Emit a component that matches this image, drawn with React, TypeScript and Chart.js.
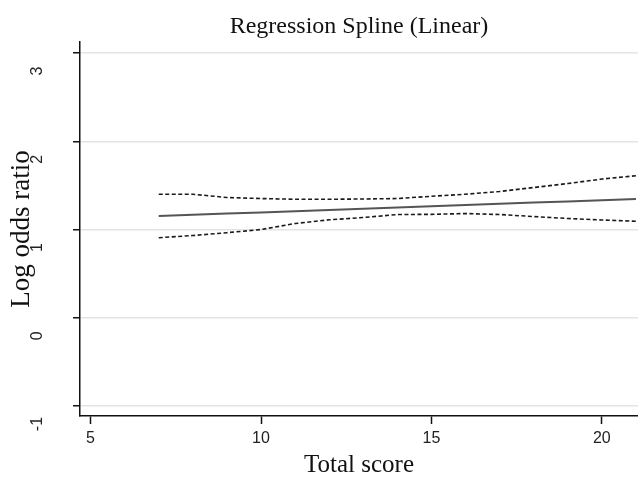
import { useEffect, useRef } from "react";
import { Chart, registerables } from "chart.js";

Chart.register(...registerables);

const titleText = "Regression Spline (Linear)";
const xTitleText = "Total score";
const yTitleText = "Log odds ratio";

const scores = [7, 8, 9, 10, 11, 12, 13, 14, 15, 16, 17, 18, 19, 20, 21];
const estimate = [1.153, 1.167, 1.181, 1.194, 1.208, 1.222, 1.236, 1.25, 1.263, 1.277, 1.291, 1.305, 1.319, 1.332, 1.346];
const upperCI = [1.4, 1.4, 1.363, 1.351, 1.343, 1.343, 1.346, 1.351, 1.377, 1.4, 1.431, 1.476, 1.521, 1.572, 1.61];
const lowerCI = [0.907, 0.932, 0.964, 1.0, 1.068, 1.11, 1.136, 1.17, 1.172, 1.181, 1.17, 1.147, 1.125, 1.108, 1.093];

const xTickValues = [5, 10, 15, 20];
const yTickValues = [-1, 0, 1, 2, 3];
const xRange = [4.69, 21.06];
const yRange = [-1.113, 3.125];

export default function App() {
  const ref = useRef<HTMLCanvasElement>(null);

  useEffect(() => {
    if (!ref.current) return;
    const toPts = (ys: number[]) => scores.map((x, i) => ({ x, y: ys[i] }));
    const zeroPad = (s: any) => {
      s.paddingLeft = 0;
      s.paddingRight = 0;
      s.paddingTop = 0;
      s.paddingBottom = 0;
    };
    const dashed = {
      borderColor: "#1a1a1a",
      borderWidth: 1.6,
      borderDash: [4, 2.5],
      pointRadius: 0,
      tension: 0,
      fill: false,
    };
    const chart = new Chart(ref.current, {
      type: "line",
      data: {
        datasets: [
          { ...dashed, data: toPts(upperCI) },
          {
            data: toPts(estimate),
            borderColor: "#555555",
            borderWidth: 2,
            pointRadius: 0,
            tension: 0,
            fill: false,
          },
          { ...dashed, data: toPts(lowerCI) },
        ],
      },
      options: {
        animation: false,
        responsive: false,
        layout: { padding: 0 },
        plugins: {
          legend: { display: false },
          tooltip: { enabled: false },
          title: {
            display: true,
            text: titleText,
            fullSize: false,
            color: "#111",
            font: { family: "Liberation Serif", size: 24, weight: "normal", lineHeight: 1.2 },
            padding: { top: 12.5, bottom: 0.7 },
          },
        },
        scales: {
          x: {
            type: "linear",
            min: xRange[0],
            max: xRange[1],
            afterBuildTicks: (s: any) => {
              s.ticks = xTickValues.map((v) => ({ value: v }));
            },
            afterFit: (s: any) => {
              s.height = 61;
              zeroPad(s);
            },
            grid: {
              drawOnChartArea: false,
              drawTicks: true,
              tickLength: 8,
              tickColor: "#111",
              tickWidth: 1.5,
            },
            border: { color: "#111", width: 1.5 },
            ticks: {
              padding: 5,
              color: "#222",
              font: { family: "Liberation Sans", size: 16 },
              maxRotation: 0,
              autoSkip: false,
            },
            title: {
              display: true,
              text: xTitleText,
              color: "#111",
              font: { family: "Liberation Serif", size: 25, weight: "normal", lineHeight: 0.92 },
              padding: { top: 0, bottom: 0 },
            },
          },
          y: {
            type: "linear",
            min: yRange[0],
            max: yRange[1],
            afterBuildTicks: (s: any) => {
              s.ticks = yTickValues.map((v) => ({ value: v }));
            },
            afterFit: (s: any) => {
              s.width = 80;
              zeroPad(s);
            },
            grid: {
              color: "#e4e4e4",
              lineWidth: 1.5,
              drawTicks: true,
              tickLength: 7,
              tickColor: "#111",
              tickWidth: 1.5,
            },
            border: { color: "#111", width: 1.5 },
            ticks: {
              padding: 28,
              color: "#222",
              font: { family: "Liberation Sans", size: 16 },
              minRotation: 90,
              maxRotation: 90,
              crossAlign: "center",
              labelOffset: 18,
              autoSkip: false,
            },
            title: {
              display: true,
              text: yTitleText,
              color: "#111",
              font: { family: "Liberation Serif", size: 27, weight: "normal", lineHeight: 1 },
              padding: { top: 8, bottom: 0 },
            },
          },
        },
      },
    } as any);
    return () => chart.destroy();
  }, []);

  return (
    <div style={{ position: "absolute", left: 0, top: 0, width: 638, height: 477, background: "#fff" }}>
      <canvas ref={ref} width={638} height={477} style={{ display: "block" }} />
    </div>
  );
}
